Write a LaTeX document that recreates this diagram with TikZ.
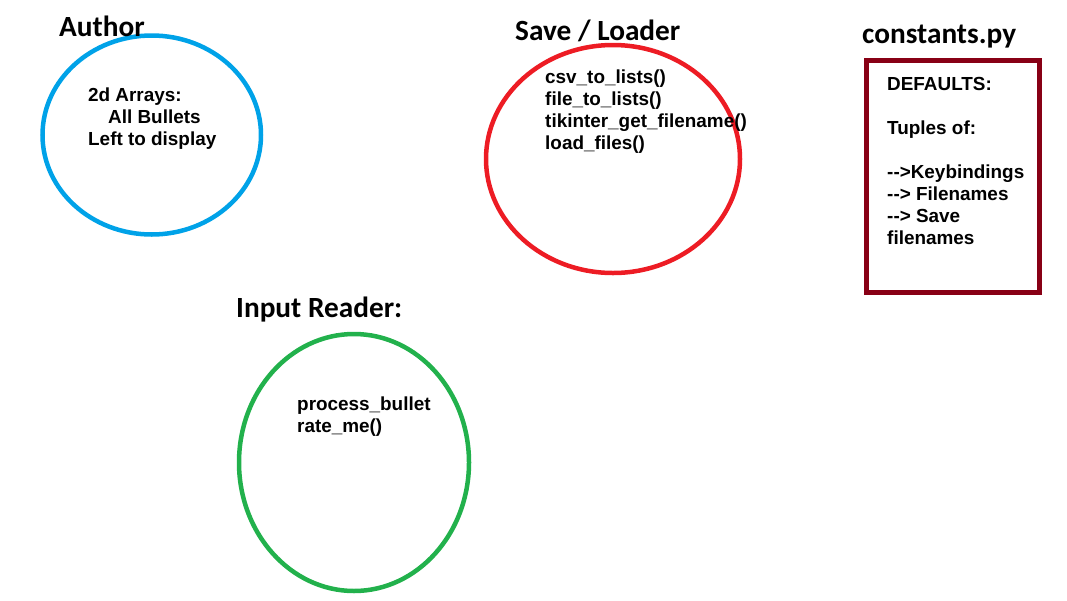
\documentclass[tikz,border=0pt]{standalone}
\usepackage{fontspec}
\setmainfont{Liberation Sans}
\newfontfamily\titlefont{Carlito}
\usetikzlibrary{shapes.geometric}
\definecolor{pblue}{HTML}{00A2E8}
\definecolor{pred}{HTML}{ED1C24}
\definecolor{pgreen}{HTML}{22B14C}
\definecolor{pdark}{HTML}{880015}
\tikzset{
  title/.style={anchor=base west, inner sep=0pt, font=\titlefont\bfseries\fontsize{29.3}{34}\selectfont},
  body/.style={anchor=base west, inner sep=0pt, align=left, font=\bfseries\fontsize{18.9}{22}\selectfont},
  blob/.style={ellipse, draw, line width=4.5pt, inner sep=0pt},
}
\begin{document}
\begin{tikzpicture}[x=1pt,y=-1pt]
\useasboundingbox (0,0) rectangle (1067,600);
% Author
\node[blob, pblue, minimum width=218.5pt, minimum height=199pt] (authorell) at (151.75,135) {};
\node[title] (authortitle) at (59,36) {Author};
\node[body] (authortext) at (88,145) {2d Arrays:\\\hspace*{20pt}All Bullets\\Left to display};
% Save / Loader
\node[blob, pred, minimum width=254pt, minimum height=228pt] (saveell) at (613,159) {};
\node[title] (savetitle) at (515,40) {Save / Loader};
\node[body] (savetext) at (545,149) {csv\_to\_lists()\\file\_to\_lists()\\tikinter\_get\_filename()\\load\_files()};
% constants.py
\node[draw=pdark, line width=5pt, minimum width=172.5pt, minimum height=232.5pt, inner sep=0pt] (constbox) at (952.75,176.25) {};
\node[title] (consttitle) at (862,43) {constants.py};
\node[body] (consttext) at (887,244) {DEFAULTS:\\[22pt]Tuples of:\\[22pt]-{}->Keybindings\\-{}-> Filenames\\-{}-> Save\\filenames};
% Input Reader
\node[blob, pgreen, minimum width=230pt, minimum height=257pt] (inputell) at (354,462.5) {};
\node[title] (inputtitle) at (236,317) {Input Reader:};
\node[body] (inputtext) at (297,432) {process\_bullet\\rate\_me()};
\end{tikzpicture}
\end{document}
